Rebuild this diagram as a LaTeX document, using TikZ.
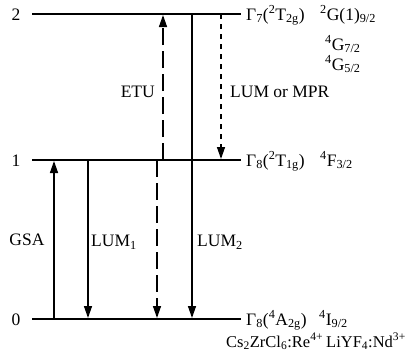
\documentclass[tikz,border=0pt]{standalone}
\usepackage{fontspec}
\setmainfont{Liberation Serif}
\usetikzlibrary{arrows.meta}
\newcommand\lsub[1]{\textsubscript{#1}}
\newcommand\lsup[1]{\textsuperscript{#1}}
\begin{document}
\begin{tikzpicture}[x=1pt,y=-1pt,
  font=\fontsize{17.5}{20}\selectfont,
  level/.style={line width=2.4pt},
  trans/.style={line width=1.4pt,-{Triangle[length=12pt,width=8pt]}},
  etu/.style={trans,dash pattern=on 17pt off 6pt},
  mpr/.style={trans,dash pattern=on 5pt off 5pt},
  lbl/.style={inner sep=0pt,anchor=base west},
  host/.style={lbl,font=\fontsize{16.5}{19}\selectfont},
  num/.style={inner sep=0pt,anchor=base}]
\useasboundingbox (0,0) rectangle (407,356);
% levels
\coordinate (L2a) at (32,14);  \coordinate (L2b) at (241,14);
\coordinate (L1a) at (32,160); \coordinate (L1b) at (241,160);
\coordinate (L0a) at (32,319); \coordinate (L0b) at (241,319);
\draw[level] (L2a) -- (L2b);
\draw[level] (L1a) -- (L1b);
\draw[level] (L0a) -- (L0b);
% level numbers
\node[num] (n2) at (16,20) {2};
\node[num] (n1) at (16,166) {1};
\node[num] (n0) at (16,325) {0};
% transition end points
\coordinate (gsaB) at (54,319);  \coordinate (gsaT) at (54,161);
\coordinate (lumAT) at (88,160); \coordinate (lumAB) at (88,318);
\coordinate (dT) at (157,160);   \coordinate (dB) at (157,318);
\coordinate (etuB) at (163,160); \coordinate (etuT) at (163,15);
\coordinate (lumBT) at (192,14); \coordinate (lumBB) at (192,318);
\coordinate (mprT) at (221,14);  \coordinate (mprB) at (221,159);
\draw[trans] (gsaB) -- (gsaT);
\draw[trans] (lumAT) -- (lumAB);
\draw[etu] (dT) -- (dB);
\draw[etu] (etuB) -- (etuT);
\draw[trans] (lumBT) -- (lumBB);
\draw[mpr] (mprT) -- (mprB);
% transition labels
\node[inner sep=0pt] (tGSA) at (27,240) {GSA};
\node[inner sep=0pt,anchor=west] (tL1) at (91,242) {LUM\lsub{1}};
\node[inner sep=0pt,anchor=west] (tL2) at (197,242) {LUM\lsub{2}};
\node[inner sep=0pt,anchor=east] (tETU) at (155,92) {ETU};
\node[inner sep=0pt,anchor=west] (tMPR) at (230,92) {LUM or MPR};
% state labels
\node[lbl] (s2) at (246,20) {Γ\lsub{7}(\lsup{2}T\lsub{2g})};
\node[lbl] (r2a) at (320,20) {\lsup{2}G(1)\lsub{9/2}};
\node[lbl] (r2b) at (325,50) {\lsup{4}G\lsub{7/2}};
\node[lbl] (r2c) at (325,70) {\lsup{4}G\lsub{5/2}};
\node[lbl] (s1) at (246,166) {Γ\lsub{8}(\lsup{2}T\lsub{1g})};
\node[lbl] (r1) at (320,166) {\lsup{4}F\lsub{3/2}};
\node[lbl] (s0) at (246,325) {Γ\lsub{8}(\lsup{4}A\lsub{2g})};
\node[lbl] (r0) at (319,325) {\lsup{4}I\lsub{9/2}};
\node[host] (h1) at (226,347) {Cs\lsub{2}ZrCl\lsub{6}:Re\lsup{4+}};
\node[host] (h2) at (326,347) {LiYF\lsub{4}:Nd\lsup{3+}};
\end{tikzpicture}
\end{document}
